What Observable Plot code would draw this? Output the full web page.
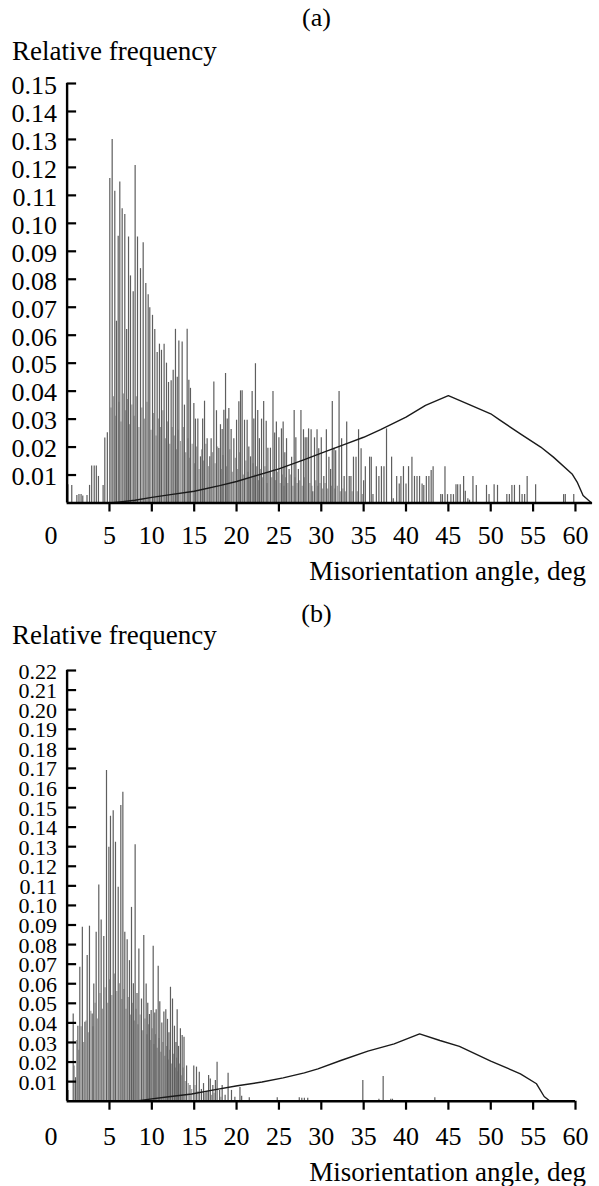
<!DOCTYPE html>
<html><head><meta charset="utf-8">
<script src="https://cdn.jsdelivr.net/npm/d3@7"></script>
<script src="https://cdn.jsdelivr.net/npm/@observablehq/plot@0.6"></script>
<style>
html,body{margin:0;padding:0;background:#fff;}
#page{position:relative;width:599px;height:1186px;overflow:hidden;}
#page svg{position:absolute;left:0;}
</style></head><body><div id="page"></div>
<script>
// ---- Panel (a) ----
const barsA = [[0.1,0.0065],[0.55,0.0063],[1.15,0.0027],[1.4,0.003],[1.65,0.003],[1.85,0.0025],[2.35,0.0027],[2.65,0.0063],[2.9,0.0132],[3.2,0.0132],[3.45,0.0132],[3.7,0.0095],[4.25,0.0063],[4.45,0.0232],[4.75,0.0251],
[5.04,0.116],[5.32,0.13],[5.63,0.1115],[5.83,0.065],[6.03,0.0954],[6.22,0.1148],[6.5,0.1052],[6.81,0.1032],[7.03,0.062],[7.25,0.0951],[7.48,0.0812],[7.8,0.0755],[8.03,0.1207],[8.31,0.0951],[8.66,0.0838],[8.98,0.0931],[9.29,0.0785],[9.57,0.0745],[9.76,0.0698],[10.08,0.0671],
[10.35,0.062],[10.63,0.0538],[10.9,0.0568],[11.14,0.0546],[11.45,0.0568],[11.73,0.05],[11.97,0.0431],[12.28,0.0437],[12.52,0.0475],[12.79,0.0621],[13.0,0.045],[13.19,0.0579],[13.58,0.0576],[13.85,0.035],[14.17,0.0621],[14.37,0.0439],[14.56,0.041],[14.96,0.0356],[15.15,0.03],[15.43,0.03],[15.74,0.0165],[16.0,0.03],[16.22,0.0364],[16.53,0.023],[16.84,0.0165],[17.0,0.023],[17.32,0.0433],[17.63,0.033],[17.91,0.0195],[18.1,0.028],[18.3,0.0263],[18.5,0.0332],[18.7,0.0463],[18.9,0.03],[19.09,0.0338],[19.36,0.0263],[19.68,0.023],[20.0,0.0296],[20.27,0.0362],[20.47,0.0401],[20.66,0.0401],[20.94,0.0296],[21.25,0.0296],[21.45,0.02],[21.65,0.0165],[21.84,0.0399],[22.04,0.03],[22.23,0.0498],[22.5,0.0331],[22.7,0.023],[22.95,0.03],[23.2,0.0363],[23.5,0.0292],[23.7,0.0196],[24.0,0.0196],[24.3,0.0399],[24.5,0.025],[24.7,0.029],[25.0,0.0233],[25.3,0.0265],[25.5,0.029],[25.7,0.018],[25.9,0.023],[26.2,0.012],[26.5,0.0164],[26.8,0.0331],[27.0,0.0233],[27.3,0.012],[27.6,0.0331],[27.9,0.0262],[28.1,0.0233],[28.3,0.0233],[28.5,0.0265],[28.8,0.0262],[29.0,0.004],[29.2,0.0233],[29.5,0.0262],[29.7,0.0194],[30.0,0.0233],[30.3,0.0095],[30.6,0.0262],[30.9,0.0164],[31.1,0.012],[31.3,0.0363],[31.5,0.0196],[31.7,0.0187],[32.1,0.0399],[32.4,0.023],[32.7,0.0095],[33.0,0.029],[33.3,0.0095],[33.5,0.0095],[33.8,0.0164],[34.1,0.0164],[34.4,0.0262],[34.7,0.0194],[35.0,0.008],[35.2,0.013],[35.7,0.0164],[35.9,0.0164],[36.1,0.003],[36.5,0.013],[36.8,0.0095],[37.1,0.013],[37.4,0.013],[37.7,0.0265],[38.3,0.0164],[38.5,0.0015],[38.9,0.0095],[39.2,0.0068],[39.4,0.0095],[39.7,0.013],[40.0,0.0068],[40.3,0.013],[40.7,0.0164],[41.0,0.0095],[41.3,0.0095],[41.6,0.0095],[41.9,0.0068],[42.1,0.0063],[42.4,0.0095],[42.7,0.0095],[42.97,0.0116],[43.2,0.013],[44.1,0.003],[44.3,0.003],[44.6,0.013],[44.9,0.003],[45.3,0.003],[45.6,0.003],[45.9,0.0065],[46.1,0.0065],[46.4,0.0065],[46.8,0.0095],[47.0,0.0042],[47.3,0.0015],[47.5,0.001],[47.9,0.0095],[48.3,0.0063],[49.5,0.0063],[49.8,0.003],[50.4,0.0065],[50.8,0.0063],[51.9,0.003],[52.2,0.003],[52.5,0.0063],[52.8,0.0063],[53.4,0.0063],[53.7,0.003],[54.0,0.003],[54.3,0.0095],[55.3,0.0065],[58.6,0.003],[58.8,0.003],[59.8,0.003]];
// lighter, lower bars that fill the dense part of the histogram (a)
const barsALight = [[5.18,0.034],[5.48,0.038],[5.75,0.031],[6.12,0.036],[6.36,0.029],[6.65,0.039],[6.92,0.033],[7.14,0.037],[7.37,0.028],[7.64,0.035],[7.92,0.031],[8.17,0.038],[8.48,0.027],[8.82,0.034],[9.13,0.03],[9.43,0.036],[9.9,0.026],[10.2,0.032],[10.5,0.024],[10.77,0.03],[11.02,0.027],[11.3,0.033],[11.6,0.023],[11.85,0.029],[12.12,0.021],[12.4,0.027],[12.65,0.024],[12.9,0.019],[13.1,0.026],[13.38,0.022],[13.72,0.027],[14.0,0.018],[14.27,0.023],[14.47,0.016],[14.76,0.021],[15.05,0.014],[15.29,0.02],[15.58,0.012],[15.87,0.019],[16.1,0.015],[16.38,0.021],[16.7,0.013],[17.16,0.018],[17.47,0.014],[17.77,0.02],[18.2,0.012],[18.4,0.017],[18.8,0.013],[19.2,0.019],[19.5,0.011],[19.85,0.016],[20.13,0.012],[20.37,0.018],[20.8,0.01],[21.1,0.015],[21.35,0.011],[21.55,0.009],[21.95,0.014],[22.13,0.01],[22.37,0.013],[22.6,0.008],[22.83,0.012],[23.08,0.009],[23.35,0.013],[23.6,0.007],[23.85,0.011],[24.15,0.009],[24.4,0.012],[24.6,0.008],[24.85,0.011],[25.15,0.007],[25.4,0.01],[25.6,0.006],[25.8,0.009],[26.05,0.007],[26.35,0.01],[26.65,0.006],[26.9,0.009],[27.15,0.007],[27.45,0.008],[27.75,0.006],[28.0,0.009],[28.65,0.007],[28.9,0.006],[29.35,0.008],[29.6,0.006],[29.85,0.007],[30.15,0.005],[30.45,0.007],[30.75,0.005],[31.2,0.006],[31.6,0.005],[31.9,0.006],[32.25,0.004],[32.55,0.005],[32.85,0.004],[33.65,0.004],[34.25,0.004],[34.85,0.003]];
const curveA = [[5,0],[6,0.0003],[8,0.001],[10,0.002],[12,0.0029],[15,0.0042],[18,0.0062],[20,0.0077],[22,0.0095],[25,0.0122],[28,0.0155],[30,0.0178],[33,0.0212],[35,0.0235],[37,0.0262],[40,0.0307],[42.3,0.0349],[45,0.0384],[47.2,0.0355],[50,0.0319],[51,0.0298],[53.5,0.0247],[55.9,0.02],[57.4,0.0164],[59.6,0.0104],[60.2,0.0075],[60.9,0.0027],[61.9,0]];
const yTicksA = [0.01,0.02,0.03,0.04,0.05,0.06,0.07,0.08,0.09,0.10,0.11,0.12,0.13,0.14,0.15];
const xTicksA = [5,10,15,20,25,30,35,40,45,50,55,60];

// ---- Panel (b) ----
const barsB = [[0.1,0.0055],[0.72,0.0446],[1.0,0.012],[1.27,0.0383],[1.5,0.0684],[1.8,0.0889],[2.1,0.0403],[2.37,0.0744],[2.64,0.0894],[2.96,0.0446],[3.15,0.0599],[3.43,0.0863],[3.74,0.1104],[4.02,0.0925],[4.33,0.0841],[4.65,0.1689],[4.93,0.1297],[5.12,0.1455],[5.44,0.1484],[5.71,0.1323],[6.03,0.1093],[6.34,0.151],[6.58,0.1578],[6.81,0.0863],[7.09,0.0825],[7.36,0.0718],[7.6,0.099],[7.82,0.06],[8.03,0.131],[8.25,0.055],[8.47,0.0778],[8.78,0.0522],[9.05,0.0846],[9.33,0.0599],[9.52,0.05],[9.72,0.0443],[9.92,0.0463],[10.16,0.0792],[10.35,0.045],[10.51,0.0467],[10.75,0.0689],[10.94,0.0508],[11.18,0.04],[11.42,0.0456],[11.65,0.0467],[11.85,0.0418],[12.02,0.035],[12.2,0.0582],[12.44,0.0522],[12.67,0.0383],[12.85,0.03],[12.99,0.0467],[13.15,0.028],[13.37,0.037],[13.58,0.0336],[13.8,0.0327],[14.1,0.018],[14.5,0.008],[14.95,0.018],[15.27,0.0174],[15.6,0.0148],[15.85,0.006],[16.1,0.009],[16.4,0.005],[16.7,0.0131],[16.9,0.0114],[17.2,0.008],[17.5,0.0106],[17.7,0.0199],[18.0,0.0055],[18.3,0.008],[18.65,0.003],[19.0,0.0143],[19.4,0.0055],[19.8,0.002],[20.4,0.007],[20.6,0.0025],[21.5,0.0017],[24.8,0.0017],[27.4,0.0017],[27.7,0.0015],[28.0,0.0015],[28.4,0.0015],[34.9,0.0106],[36.8,0.001],[37.3,0.0126],[38.2,0.001],[38.4,0.001],[43.4,0.0017]];
// lighter, lower bars that fill the dense part of the histogram (b)
const barsBLight = [[0.85,0.018],[1.13,0.031],[1.38,0.026],[1.65,0.038],[1.95,0.03],[2.23,0.041],[2.5,0.035],[2.8,0.046],[3.05,0.038],[3.3,0.05],[3.58,0.042],[3.88,0.055],[4.17,0.047],[4.48,0.058],[4.8,0.05],[5.02,0.062],[5.28,0.054],[5.58,0.065],[5.87,0.056],[6.18,0.06],[6.46,0.052],[6.7,0.057],[6.95,0.047],[7.22,0.053],[7.48,0.044],[7.71,0.05],[7.93,0.041],[8.14,0.047],[8.36,0.039],[8.62,0.044],[8.92,0.036],[9.19,0.042],[9.42,0.034],[9.62,0.039],[9.82,0.031],[10.04,0.037],[10.25,0.029],[10.43,0.034],[10.63,0.027],[10.85,0.032],[11.06,0.025],[11.3,0.03],[11.53,0.023],[11.75,0.028],[11.94,0.021],[12.11,0.026],[12.32,0.019],[12.55,0.024],[12.76,0.017],[12.92,0.022],[13.07,0.015],[13.26,0.019],[13.47,0.013],[13.69,0.017],[13.95,0.01],[14.3,0.009],[14.7,0.006],[15.1,0.008],[15.45,0.005],[16.25,0.004],[16.55,0.005],[17.05,0.003],[17.35,0.004],[18.15,0.002]];
const curveB = [[8,0],[10,0.0012],[12,0.0023],[14.7,0.0037],[17,0.0055],[20.1,0.0079],[23,0.0098],[25.5,0.0119],[28,0.0145],[29.6,0.0165],[32.3,0.0208],[35.5,0.0256],[38.6,0.0293],[41.6,0.0344],[44,0.031],[46.3,0.028],[50,0.0205],[53.5,0.014],[55.4,0.0089],[56.3,0.0024],[57,0]];
const yTicksB = [0.01,0.02,0.03,0.04,0.05,0.06,0.07,0.08,0.09,0.10,0.11,0.12,0.13,0.14,0.15,0.16,0.17,0.18,0.19,0.20,0.21,0.22];
const xTicksB = [5,10,15,20,25,30,35,40,45,50,55,60];

const panelLabels = ["(a)", "(b)"];
const yTitle = "Relative frequency";
const xTitle = "Misorientation angle, deg";

const FONT = "Liberation Serif, Times New Roman, serif";

function panel(cfg) {
  const ml = 66.6;
  const frameW = 599 - ml - cfg.mr;
  const fs = cfg.fs;
  const svg = Plot.plot({
    width: 599, height: cfg.height,
    marginTop: cfg.mt, marginBottom: cfg.mb, marginLeft: ml, marginRight: cfg.mr,
    x: {domain: [0, cfg.xMax]},
    y: {domain: [0, cfg.yMax]},
    style: {fontFamily: FONT, fontSize: fs + "px", color: "#000", background: "#fff", overflow: "visible"},
    marks: [
      Plot.ruleX(cfg.light, {x: d => d[0], y: d => d[1], stroke: "#a0a0a0", strokeWidth: 1.2}),
      Plot.ruleX(cfg.bars, {x: d => d[0], y: d => d[1], stroke: "#5e5e5e", strokeWidth: 1.2}),
      Plot.line(cfg.curve, {x: d => d[0], y: d => d[1], stroke: "#1a1a1a", strokeWidth: 1.4}),
      Plot.ruleY([0], {stroke: "#000", strokeWidth: 2.4}),
      Plot.ruleX([0], {y1: 0, y2: cfg.yMax, stroke: "#000", strokeWidth: 2.4}),
      Plot.tickY(cfg.yTicks, {y: d => d, insetRight: frameW - 9.5, stroke: "#000", strokeWidth: 2.2}),
      Plot.axisY({ticks: cfg.yTicks, tickSize: 0, tickPadding: 10, tickFormat: d3.format(".2f"), label: null, dy: cfg.yDy, fontSize: cfg.yfs}),
      Plot.axisX({ticks: cfg.xTicks, tickSize: 9, tickPadding: cfg.padX, strokeWidth: 2.2, tickFormat: d => String(d), label: null, fontSize: fs}),
      Plot.text(["0"], {x: 0, y: 0, text: d => d, dx: -16, dy: cfg.zeroDy, fontSize: fs})
    ]
  });
  svg.style.top = cfg.top + "px";
  const s = d3.select(svg);
  const t = (txt, x, y, anchor, size) => s.append("text").attr("x", x).attr("y", y)
    .attr("text-anchor", anchor).attr("font-family", FONT).attr("font-size", size).attr("fill", "#000").text(txt);
  t(cfg.label, 316.5, cfg.labelY, "middle", 26);
  t(yTitle, 12, cfg.yTitleY, "start", 27);
  t(xTitle, 586, cfg.xTitleY, "end", 27);
  return svg;
}

const page = document.getElementById("page");
page.appendChild(panel({
  top: 0, height: 600, mt: 83, mb: 97.5, mr: 7.1, xMax: 62, yMax: 0.15,
  bars: barsA, light: barsALight, curve: curveA, yTicks: yTicksA, xTicks: xTicksA,
  fs: 26, yfs: 26, yDy: 2, padX: 13.5, zeroDy: 32.5,
  label: panelLabels[0], labelY: 26, yTitleY: 60, xTitleY: 580
}));
page.appendChild(panel({
  top: 600, height: 586, mt: 70, mb: 85.3, mr: 24, xMax: 60, yMax: 0.22,
  bars: barsB, light: barsBLight, curve: curveB, yTicks: yTicksB, xTicks: xTicksB,
  fs: 26, yfs: 22, yDy: 1, padX: 16.3, zeroDy: 35.3,
  label: panelLabels[1], labelY: 22, yTitleY: 44, xTitleY: 581
}));
</script></body></html>
